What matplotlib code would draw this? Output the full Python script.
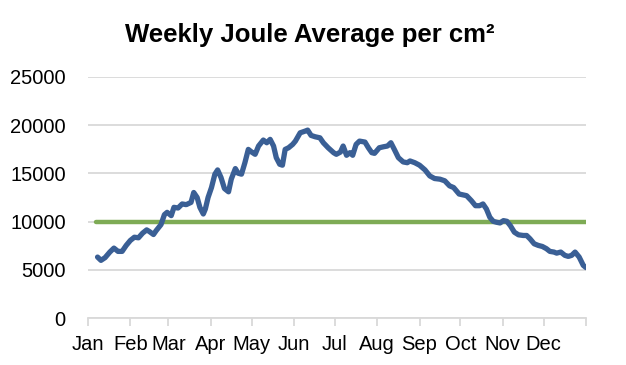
import matplotlib
matplotlib.use("Agg")
import matplotlib.pyplot as plt

plt.rcParams['font.family'] = ['Liberation Sans', 'DejaVu Sans']

# Day of year and weekly joule average per cm^2
days = [7, 9.5, 12.5, 16, 19, 22, 25, 28, 31, 34, 37, 40, 43, 45, 48, 50, 53.5, 56, 58, 61,
        63, 66, 69, 72, 75.5, 77.5, 80, 82, 84.5, 86, 88, 90.5, 93, 95, 97.5, 100, 103, 105,
        108, 110, 112.5, 115, 117.5, 120, 122.5, 125, 128.5, 131, 133.5, 136, 138, 140.5,
        142.5, 144.5, 147, 150, 152, 155.5, 159, 161, 163.5, 166.5, 170, 172.5, 176, 178,
        180, 182, 185, 187, 189.5, 192, 194, 196.5, 199, 203, 205.5, 208, 210, 213.5, 216.5,
        219.5, 222, 224.5, 227.5, 231, 234, 236, 239.5, 243, 247, 250.5, 254, 258, 261.5,
        265, 268, 272, 277.5, 281, 284, 287, 289.5, 292, 294.5, 297, 299.5, 302, 304.5, 307,
        309.5, 312.5, 315.5, 319, 321.5, 324, 327, 330, 333, 336, 338.5, 341.5, 343.5, 346.5,
        349.5, 352, 354.5, 357, 360, 363, 365]
values = [6320, 5980, 6260, 6840, 7250, 6910, 6910, 7530, 8040, 8380, 8320, 8800, 9140, 8970,
          8660, 9070, 9690, 10720, 10960, 10620, 11480, 11410, 11830, 11760, 11990, 13020,
          12500, 11480, 10790, 11300, 12500, 13530, 14920, 15360, 14570, 13430, 13090, 14400,
          15500, 15020, 14920, 16110, 17490, 17210, 16980, 17840, 18460, 18180, 18530, 17840,
          16630, 15950, 15850, 17490, 17660, 18010, 18350, 19210, 19380, 19490, 18940, 18800,
          18690, 18180, 17660, 17400, 17150, 16980, 17210, 17840, 16880, 17150, 16880, 18010,
          18350, 18250, 17660, 17150, 17080, 17660, 17760, 17840, 18180, 17490, 16630, 16190,
          16110, 16290, 16110, 15850, 15360, 14740, 14470, 14400, 14230, 13710, 13530, 12860,
          12690, 12170, 11650, 11650, 11830, 11310, 10450, 10030, 9930, 9860, 10100, 10030,
          9590, 8900, 8630, 8560, 8560, 8210, 7700, 7530, 7420, 7190, 6910, 6840, 6730, 6840,
          6500, 6390, 6500, 6840, 6320, 5460, 5230]

threshold = 10000
threshold_days = [6, 365]

month_labels = ['Jan', 'Feb', 'Mar', 'Apr', 'May', 'Jun', 'Jul', 'Aug', 'Sep', 'Oct', 'Nov', 'Dec']
month_starts = [0, 31, 59, 90, 120, 151, 181, 212, 243, 273, 304, 334, 365]
y_ticks = [0, 5000, 10000, 15000, 20000, 25000]

fig = plt.figure(figsize=(6.26, 3.65), dpi=100)
ax = fig.add_axes([88/626, 1-318/365, (586-88)/626, (318-77)/365])

ax.set_xlim(0, 365)
ax.set_ylim(0, 25000)
ax.set_yticks(y_ticks)
ax.set_yticklabels([str(v) for v in y_ticks])
ax.grid(axis='y', color='#D9D9D9', linewidth=1.3)
ax.set_axisbelow(True)

ax.plot(threshold_days, [threshold, threshold], color='#7EAB55', linewidth=3.2,
        solid_capstyle='round', zorder=2)
ax.plot(days, values, color='#3A5F95', linewidth=3.8, solid_capstyle='round',
        solid_joinstyle='round', zorder=3)

ax.set_xticks(month_starts)
ax.set_xticklabels(month_labels + [''])

for s in ['top', 'right', 'left']:
    ax.spines[s].set_visible(False)
ax.spines['bottom'].set_color('#D9D9D9')
ax.spines['bottom'].set_linewidth(1.3)
ax.tick_params(axis='x', colors='#D9D9D9', length=6, width=1.3, direction='out',
               labelcolor='black', labelsize=14.5, pad=6)
ax.tick_params(axis='y', length=0, labelsize=14.5, pad=16, labelcolor='black')

fig.text(0.495, 0.905, 'Weekly Joule Average per cm²', ha='center', va='center',
         fontsize=18.5, fontweight='bold')

fig.savefig('out.png', dpi=100)
